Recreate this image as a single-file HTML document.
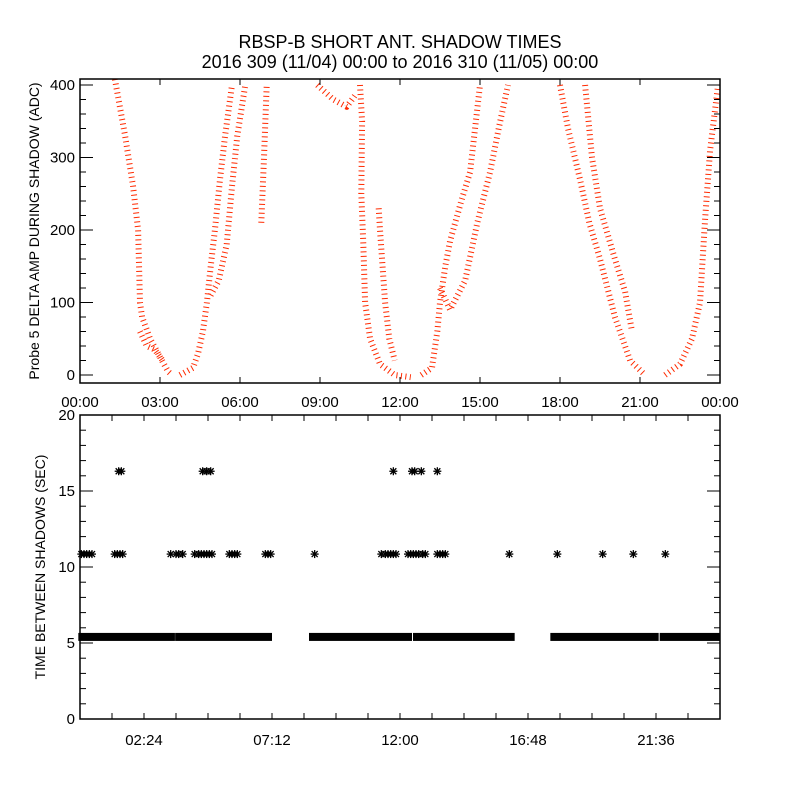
<!DOCTYPE html>
<html><head><meta charset="utf-8"><style>
body{margin:0;background:#fff;}
svg text{font-family:"Liberation Sans",sans-serif;fill:#000;}
</style></head><body>
<svg id="chart" width="800" height="800" viewBox="0 0 800 800" xmlns="http://www.w3.org/2000/svg">
<rect width="800" height="800" fill="#fff"/>
<text x="400" y="48" font-size="18" text-anchor="middle">RBSP-B SHORT ANT. SHADOW TIMES</text>
<text x="400" y="68" font-size="18" text-anchor="middle">2016 309 (11/04) 00:00 to 2016 310 (11/05) 00:00</text>
<g id="top"></g>
<g id="bot"></g>
</svg>
<script>
// ---- top panel data: traces of [hour, ADC] ----
const traceA = [[1.31,408],[1.69,330],[1.99,260],[2.18,200],[2.25,100],[2.33,80],[2.63,50],[3.0,25],[3.3,5],[3.45,0]];
const traceA2 = [[2.25,60],[2.5,40],[2.8,35],[3.1,20]];
const traceB = [[3.75,0],[4.24,10],[4.43,30],[4.61,60],[4.76,100],[4.9,150],[5.06,200],[5.25,270],[5.44,330],[5.7,400]];
const traceB2 = [[4.9,110],[5.2,130],[5.5,180],[5.7,260],[5.9,330],[6.2,400]];
const traceB3 = [[6.8,210],[6.9,300],[7.0,400]];
const traceC = [[8.9,400],[9.5,380],[10.0,370],[10.3,385]];
const traceD = [[10.5,400],[10.58,350],[10.55,250],[10.62,185],[10.69,100],[10.88,50],[11.25,15],[11.8,0],[12.4,-3]];
const traceD2 = [[11.2,230],[11.25,200],[11.44,100],[11.6,50],[11.8,20]];
const traceE = [[12.8,0],[13.2,10],[13.4,60],[13.5,100],[13.7,150],[13.88,185],[14.3,240],[14.63,280],[15.0,400]];
const traceE2 = [[13.5,120],[13.88,90],[14.44,130],[14.9,210],[15.38,280],[15.7,340],[16.05,400]];
const traceF = [[18.0,400],[18.3,340],[18.75,270],[19.1,210],[19.5,160],[20.06,80],[20.63,20],[21.19,0]];
const traceF2 = [[18.94,400],[19.2,300],[19.5,230],[20.06,160],[20.44,115],[20.7,60]];
const traceG = [[21.94,0],[22.5,15],[22.95,50],[23.25,100],[23.44,215],[23.63,310],[23.93,400]];
const traces = [traceA,traceA2,traceB,traceB2,traceB3,traceC,traceD,traceD2,traceE,traceE2,traceF,traceF2,traceG];
const topYTicks = [0,100,200,300,400];
const topXLabels = ["00:00","03:00","06:00","09:00","12:00","15:00","18:00","21:00","00:00"];
// ---- bottom panel data ----
const bandSegments = [[0.05,3.56],[3.68,7.2],[8.7,12.45],[12.6,16.3],[17.75,21.7],[21.85,24]];
const bandValue = 5.4;
const midHours = [0.05,0.15,0.25,0.35,0.45,1.3,1.4,1.5,1.6,3.4,3.6,3.7,3.85,4.3,4.45,4.55,4.65,4.75,4.85,4.95,5.6,5.7,5.8,5.9,6.95,7.05,7.15,8.8,11.3,11.45,11.55,11.65,11.75,11.85,12.3,12.4,12.5,12.6,12.7,12.85,12.95,13.4,13.5,13.6,13.7,16.1,17.9,19.6,20.75,21.95];
const midValue = 10.85;
const highHours = [1.45,1.55,4.6,4.75,4.9,11.75,12.45,12.55,12.8,13.4];
const highValue = 16.3;
const botYTicks = [0,5,10,15,20];
const botXLabels = ["02:24","07:12","12:00","16:48","21:36"];

const NS="http://www.w3.org/2000/svg";
function mk(tag,attrs,parent){const e=document.createElementNS(NS,tag);for(const k in attrs)e.setAttribute(k,attrs[k]);parent.appendChild(e);return e;}
const L=80,R=720;
const xs=h=>L+(h/24)*(R-L);
// top panel
const T=document.getElementById('top');
const tTop=79,tBot=383;
const ty=v=>375-v*0.725;
const cp=mk('clipPath',{id:'clipTop'},T);mk('rect',{x:L,y:tTop,width:R-L,height:tBot-tTop},cp);
traces.forEach((tr,i)=>{
  const pts=tr.map(p=>xs(p[0]).toFixed(1)+","+ty(p[1]).toFixed(1)).join(" ");
  const pl=mk('polyline',{points:pts,fill:'none',stroke:'#ff2a00','stroke-width':6,'stroke-dasharray':'1 3.5','stroke-linejoin':'round','clip-path':'url(#clipTop)'},T);
  
  
});
const ta=mk('rect',{x:L,y:tTop,width:R-L,height:tBot-tTop,fill:'none',stroke:'#000','stroke-width':1.5},T);

for(let v=0;v<=400;v+=20){const y=ty(v);const len=v%100===0?13:6;
  mk('line',{x1:L,x2:L+len,y1:y,y2:y,stroke:'#000'},T);mk('line',{x1:R,x2:R-len,y1:y,y2:y,stroke:'#000'},T);}
topYTicks.forEach(v=>{const t=mk('text',{x:75,y:ty(v)+5,'font-size':15,'text-anchor':'end'},T);t.textContent=v;
  });
topXLabels.forEach((s,i)=>{const x=xs(i*3);
  mk('line',{x1:x,x2:x,y1:tBot,y2:tBot-6,stroke:'#000'},T);mk('line',{x1:x,x2:x,y1:tTop,y2:tTop+6,stroke:'#000'},T);
  const t=mk('text',{x:x,y:407,'font-size':15,'text-anchor':'middle'},T);t.textContent=s;
  });
const tyt=mk('text',{x:0,y:0,'font-size':14,'text-anchor':'middle',transform:'translate(39,231) rotate(-90)'},T);
tyt.textContent="Probe 5 DELTA AMP DURING SHADOW (ADC)";

// bottom panel
const B=document.getElementById('bot');
const bTop=415,bBot=719;
const by=v=>bBot-(v/20)*(bBot-bTop);
function star(h,v,name){const x=xs(h),y=by(v);const g=mk('g',{stroke:'#000','stroke-width':1.3},B);
  
  mk('line',{x1:x-4,x2:x+4,y1:y,y2:y},g);mk('line',{x1:x,x2:x,y1:y-4,y2:y+4},g);
  mk('line',{x1:x-3,x2:x+3,y1:y-3,y2:y+3},g);mk('line',{x1:x-3,x2:x+3,y1:y+3,y2:y-3},g);}
bandSegments.forEach(s=>{const r=mk('rect',{x:xs(s[0])-3,y:by(bandValue)-4,width:xs(s[1])-xs(s[0])+3,height:8,fill:'#000'},B);
  });
midHours.forEach(h=>star(h,midValue,'interval-point-11s'));
highHours.forEach(h=>star(h,highValue,'interval-point-16s'));
const ba=mk('rect',{x:L,y:bTop,width:R-L,height:bBot-bTop,fill:'none',stroke:'#000','stroke-width':1.5},B);

for(let v=0;v<=20;v++){const y=by(v);const len=v%5===0?13:6;
  mk('line',{x1:L,x2:L+len,y1:y,y2:y,stroke:'#000'},B);mk('line',{x1:R,x2:R-len,y1:y,y2:y,stroke:'#000'},B);}
botYTicks.forEach(v=>{const t=mk('text',{x:75,y:by(v)+5,'font-size':15,'text-anchor':'end'},B);t.textContent=v;
  });
for(let i=1;i<20;i++){const x=xs(i*1.2);
  mk('line',{x1:x,x2:x,y1:bBot,y2:bBot-6,stroke:'#000'},B);mk('line',{x1:x,x2:x,y1:bTop,y2:bTop+6,stroke:'#000'},B);}
botXLabels.forEach((s,i)=>{const x=xs(2.4+i*4.8);
  const t=mk('text',{x:x,y:745,'font-size':15,'text-anchor':'middle'},B);t.textContent=s;
  });
const byt=mk('text',{x:0,y:0,'font-size':14,'text-anchor':'middle',transform:'translate(45,567) rotate(-90)'},B);
byt.textContent="TIME BETWEEN SHADOWS (SEC)";

</script>
</body></html>
